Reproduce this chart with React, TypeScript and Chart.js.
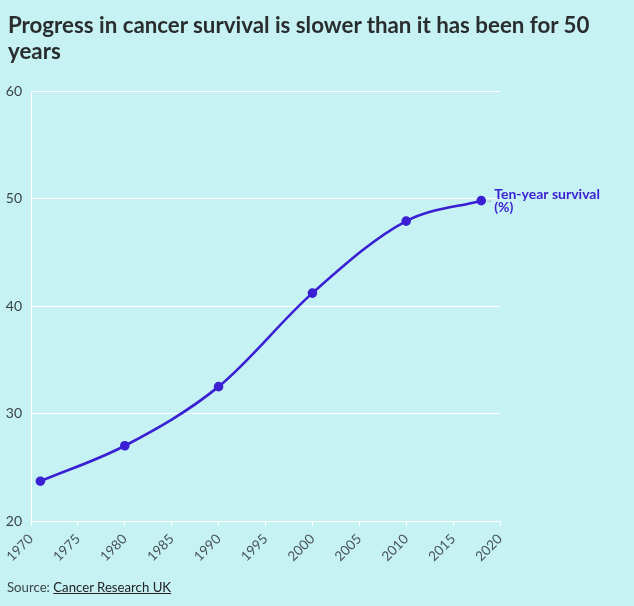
import React, { useEffect, useRef } from "react";
import { Chart, registerables } from "chart.js";

Chart.register(...registerables);

const years = [1971, 1980, 1990, 2000, 2010, 2018];
const survival = [23.7, 27.0, 32.5, 41.2, 47.9, 49.8];
const seriesLabel = ["Ten-year survival", "(%)"];
const xMin = 1970;
const xMax = 2020;
const yMin = 20;
const yMax = 60;

const BG = "#c6f2f4";
const LINE = "#3a1fd3";
const FONT = "Lato, 'Open Sans', sans-serif";

const endLabelPlugin = {
  id: "endLabel",
  afterDatasetsDraw(chart: any) {
    const { ctx, scales } = chart;
    const i = years.length - 1;
    const px = scales.x.getPixelForValue(years[i]);
    const py = scales.y.getPixelForValue(survival[i]);
    ctx.save();
    ctx.strokeStyle = "#aab4b6";
    ctx.lineWidth = 1;
    ctx.beginPath();
    ctx.moveTo(px + 6, py + 0.5);
    ctx.lineTo(px + 10, py + 0.5);
    ctx.stroke();
    ctx.fillStyle = LINE;
    ctx.font = `bold 14px ${FONT}`;
    ctx.textAlign = "left";
    ctx.textBaseline = "middle";
    ctx.fillText(seriesLabel[0], px + 13, py - 6);
    ctx.fillText(seriesLabel[1], px + 13, py + 7);
    ctx.restore();
  },
};

export default function App() {
  const ref = useRef<HTMLCanvasElement>(null);
  useEffect(() => {
    document.body.style.margin = "0";
    document.body.style.background = BG;
    const chart = new Chart(ref.current!, {
      type: "line",
      data: {
        datasets: [
          {
            data: years.map((y, i) => ({ x: y, y: survival[i] })),
            borderColor: LINE,
            backgroundColor: LINE,
            borderWidth: 2.6,
            pointRadius: 3.5,
            pointHoverRadius: 3.5,
            cubicInterpolationMode: "monotone",
            fill: false,
          },
        ],
      },
      options: {
        animation: false,
        responsive: false,
        maintainAspectRatio: false,
        layout: { padding: { left: 0, top: 91, right: 134, bottom: 0 } },
        plugins: {
          legend: { display: false },
          tooltip: { enabled: false },
          title: { display: false },
        },
        scales: {
          x: {
            type: "linear",
            min: xMin,
            max: xMax,
            afterFit: (s: any) => {
              s.height = 85;
            },
            ticks: {
              stepSize: 5,
              minRotation: 45,
              maxRotation: 45,
              color: "#4a5558",
              font: { family: FONT, size: 13.5 },
              padding: 5,
              callback: (v: any) => String(v),
            },
            grid: {
              drawOnChartArea: false,
              drawTicks: true,
              tickLength: 5,
              color: "#ffffff",
            },
            border: { display: true, color: "#ffffff", width: 1 },
          },
          y: {
            min: yMin,
            max: yMax,
            afterFit: (s: any) => {
              s.width = 31;
            },
            ticks: {
              stepSize: 10,
              color: "#3b4447",
              font: { family: FONT, size: 14 },
              padding: 9,
            },
            grid: {
              color: "#ffffff",
              drawTicks: false,
              lineWidth: 1,
            },
            border: { display: true, color: "#ffffff", width: 1 },
          },
        },
      },
      plugins: [endLabelPlugin],
    });
    return () => chart.destroy();
  }, []);

  return (
    <div
      style={{
        position: "relative",
        width: 634,
        height: 606,
        background: BG,
        overflow: "hidden",
        fontFamily: FONT,
      }}
    >
      <canvas
        ref={ref}
        width={634}
        height={606}
        style={{ position: "absolute", left: 0, top: 0, width: 634, height: 606 }}
      />
      <div
        style={{
          position: "absolute",
          left: 8,
          top: 12,
          width: 626,
          fontSize: 22.3,
          fontWeight: 700,
          lineHeight: "26px",
          color: "#2a2d2e",
          whiteSpace: "nowrap",
        }}
      >
        Progress in cancer survival is slower than it has been for 50
        <br />
        years
      </div>
      <div
        style={{
          position: "absolute",
          left: 7,
          top: 579,
          fontSize: 13.2,
          color: "#3b4447",
        }}
      >
        Source: <span style={{ textDecoration: "underline", color: "#222" }}>Cancer Research UK</span>
      </div>
    </div>
  );
}
